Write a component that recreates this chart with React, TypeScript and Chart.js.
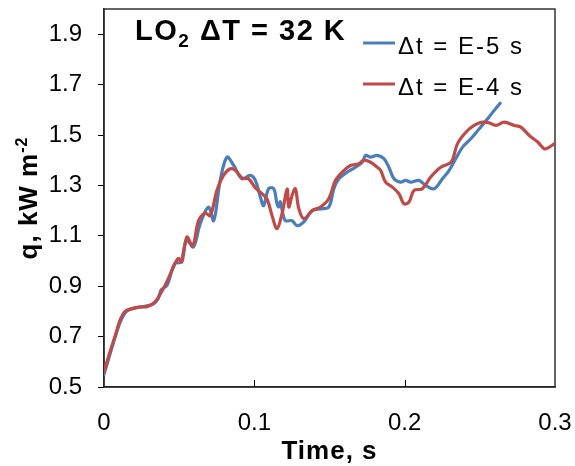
import { useEffect, useRef } from 'react';
import { Chart, registerables } from 'chart.js';

Chart.register(...registerables);

const FONT = '"Liberation Sans", Arial, Helvetica, sans-serif';

// Δt = E-5 s run: time (s) and heat flux (kW m^-2)
const timeFine = [
  0, 0.003, 0.007, 0.011, 0.015, 0.02, 0.027, 0.033, 0.036, 0.038,
  0.042, 0.047, 0.051, 0.055, 0.0595, 0.064, 0.0695, 0.073, 0.0773, 0.0818,
  0.0862, 0.0918, 0.0973, 0.1007, 0.104, 0.1062, 0.1095, 0.1129, 0.1151, 0.1162,
  0.1173, 0.1189, 0.1207, 0.1251, 0.1285, 0.1329, 0.1385, 0.144, 0.1495, 0.1529,
  0.1562, 0.1618, 0.1673, 0.1718, 0.174, 0.1773, 0.1818, 0.1862, 0.1895, 0.1929,
  0.1973, 0.2007, 0.204, 0.2095, 0.214, 0.2195, 0.2251, 0.2295, 0.234, 0.2385,
  0.244, 0.2495, 0.2551, 0.2595, 0.2635,
];
const heatFine = [
  0.55, 0.61, 0.69, 0.76, 0.8, 0.812, 0.82, 0.83, 0.85, 0.885,
  0.905, 0.99, 0.996, 1.082, 1.056, 1.148, 1.214, 1.16, 1.32, 1.412,
  1.38, 1.326, 1.34, 1.32, 1.254, 1.22, 1.287, 1.287, 1.227, 1.215,
  1.235, 1.19, 1.16, 1.16, 1.14, 1.155, 1.2, 1.207, 1.214, 1.287,
  1.326, 1.353, 1.372, 1.392, 1.419, 1.412, 1.419, 1.406, 1.372, 1.326,
  1.313, 1.32, 1.313, 1.32, 1.3, 1.287, 1.326, 1.359, 1.406, 1.452,
  1.485, 1.524, 1.564, 1.597, 1.626,
];

// Δt = E-4 s run
const timeCoarse = [
  0, 0.004, 0.0073, 0.011, 0.014, 0.019, 0.024, 0.029, 0.034, 0.0407,
  0.0462, 0.0495, 0.0518, 0.0551, 0.059, 0.0629, 0.0673, 0.0707, 0.0751, 0.0795,
  0.084, 0.0873, 0.0918, 0.0962, 0.1007, 0.1051, 0.1085, 0.1118, 0.1151, 0.1185,
  0.1218, 0.1229, 0.1251, 0.1273, 0.1295, 0.1329, 0.1385, 0.144, 0.1495, 0.154,
  0.1595, 0.164, 0.1695, 0.1729, 0.1773, 0.1818, 0.184, 0.1873, 0.1918, 0.1962,
  0.1995, 0.2029, 0.2062, 0.2118, 0.2173, 0.224, 0.2295, 0.2318, 0.2351, 0.2407,
  0.2462, 0.2518, 0.2562, 0.2607, 0.2662, 0.2729, 0.2773, 0.2829, 0.2885, 0.2929,
  0.2962, 0.2995, 0.3,
];
const heatCoarse = [
  0.56, 0.64, 0.7, 0.77, 0.8, 0.812, 0.818, 0.82, 0.838, 0.904,
  0.976, 1.01, 0.996, 1.095, 1.06, 1.16, 1.19, 1.18, 1.28, 1.34,
  1.366, 1.36, 1.33, 1.326, 1.29, 1.267, 1.245, 1.18, 1.128, 1.19,
  1.285, 1.214, 1.26, 1.287, 1.21, 1.168, 1.2, 1.214, 1.247, 1.32,
  1.359, 1.379, 1.386, 1.4, 1.392, 1.372, 1.36, 1.313, 1.293, 1.267,
  1.227, 1.234, 1.28, 1.287, 1.333, 1.372, 1.386, 1.4, 1.465, 1.511,
  1.538, 1.551, 1.548, 1.538, 1.551, 1.538, 1.531, 1.498, 1.472, 1.445,
  1.452, 1.465, 1.467,
];

const xTickValues = [0, 0.1, 0.2, 0.3];
const yTickValues = [0.5, 0.7, 0.9, 1.1, 1.3, 1.5, 1.7, 1.9];
const seriesLabels = ['Δt = E-5 s', 'Δt = E-4 s'];
const seriesColors = ['#4A7EBB', '#BE4B48'];

const toPoints = (xs: number[], ys: number[]) => xs.map((x, i) => ({ x, y: ys[i] }));

// Plot frame, inward x ticks, title, legend and axis titles
const decorations = {
  id: 'decorations',
  beforeDatasetsDraw(chart: any) {
    const { ctx, chartArea: a, scales } = chart;
    ctx.save();
    ctx.strokeStyle = '#333';
    ctx.lineWidth = 1.5;
    ctx.strokeRect(a.left, a.top, a.right - a.left, a.bottom - a.top);
    ctx.strokeStyle = '#000';
    ctx.lineWidth = 1;
    for (const v of xTickValues.slice(1, -1)) {
      const px = Math.round(scales.x.getPixelForValue(v)) + 0.5;
      ctx.beginPath();
      ctx.moveTo(px, a.bottom);
      ctx.lineTo(px, a.bottom - 7);
      ctx.stroke();
    }
    ctx.restore();
  },
  afterDraw(chart: any) {
    const { ctx, chartArea: a } = chart;
    ctx.save();
    ctx.fillStyle = '#000';
    ctx.textAlign = 'left';
    ctx.textBaseline = 'alphabetic';

    // Title: LO2 ΔT = 32 K
    ctx.letterSpacing = '1.5px';
    let x = 135;
    ctx.font = `bold 29px ${FONT}`;
    ctx.fillText('LO', x, 40);
    x += ctx.measureText('LO').width;
    ctx.font = `bold 19px ${FONT}`;
    ctx.fillText('2', x, 47);
    x += ctx.measureText('2').width;
    ctx.font = `bold 29px ${FONT}`;
    ctx.fillText(' ΔT = 32 K', x, 40);

    // Legend
    chart.data.datasets.forEach((ds: any, i: number) => {
      const y = 43 + 41 * i;
      ctx.strokeStyle = ds.borderColor;
      ctx.lineWidth = 3;
      ctx.beginPath();
      ctx.moveTo(363, y);
      ctx.lineTo(395, y);
      ctx.stroke();
      ctx.font = `24px ${FONT}`;
      ctx.letterSpacing = '2px';
      ctx.fillText(ds.label, 398, y + 10.5);
    });

    // x-axis title
    ctx.letterSpacing = '1px';
    ctx.font = `bold 26px ${FONT}`;
    ctx.textAlign = 'center';
    ctx.fillText('Time, s', (a.left + a.right) / 2, 459);

    // y-axis title, rotated, with superscript exponent
    ctx.save();
    ctx.translate(37, (a.top + a.bottom) / 2);
    ctx.rotate(-Math.PI / 2);
    ctx.textAlign = 'left';
    const main = 'q, kW m';
    const sup = '-2';
    ctx.font = `bold 26px ${FONT}`;
    const wMain = ctx.measureText(main).width;
    ctx.font = `bold 16px ${FONT}`;
    const wSup = ctx.measureText(sup).width;
    const start = -(wMain + wSup) / 2;
    ctx.font = `bold 26px ${FONT}`;
    ctx.fillText(main, start, 0);
    ctx.font = `bold 16px ${FONT}`;
    ctx.fillText(sup, start + wMain, -10);
    ctx.restore();

    ctx.restore();
  },
};

export default function App() {
  const canvasRef = useRef<HTMLCanvasElement | null>(null);

  useEffect(() => {
    const canvas = canvasRef.current;
    if (!canvas) return;
    const chart = new Chart(canvas, {
      type: 'line',
      data: {
        datasets: [
          {
            label: seriesLabels[0],
            data: toPoints(timeFine, heatFine),
            borderColor: seriesColors[0],
            order: 1,
          },
          {
            label: seriesLabels[1],
            data: toPoints(timeCoarse, heatCoarse),
            borderColor: seriesColors[1],
            order: 0,
          },
        ],
      },
      options: {
        responsive: false,
        animation: false,
        events: [],
        layout: { padding: { top: 9, right: 20, left: 0, bottom: 0 } },
        plugins: {
          legend: { display: false },
          tooltip: { enabled: false },
        },
        elements: {
          point: { radius: 0 },
          line: {
            borderWidth: 3.2,
            tension: 0.35,
            borderCapStyle: 'round',
            borderJoinStyle: 'round',
            fill: false,
          },
        },
        scales: {
          x: {
            type: 'linear',
            min: 0,
            max: 0.3,
            afterFit: (s: any) => {
              s.height = 79;
              s.paddingLeft = 0;
              s.paddingRight = 0;
            },
            afterBuildTicks: (s: any) => {
              s.ticks = xTickValues.map((value) => ({ value }));
            },
            grid: { display: false, drawTicks: false },
            border: { display: true, color: '#000', width: 1.5 },
            ticks: {
              font: { family: FONT, size: 24 },
              color: '#000',
              padding: 22,
              maxRotation: 0,
              autoSkip: false,
              callback: (v: any) => String(v),
            },
          },
          y: {
            type: 'linear',
            min: 0.5,
            max: 2.0,
            afterFit: (s: any) => {
              s.width = 104;
              s.paddingTop = 0;
              s.paddingBottom = 0;
            },
            afterBuildTicks: (s: any) => {
              s.ticks = yTickValues.map((value) => ({ value }));
            },
            grid: {
              display: true,
              drawOnChartArea: false,
              drawTicks: true,
              tickLength: 6,
              color: '#000',
              lineWidth: 1,
            },
            border: { display: true, color: '#000', width: 1.5 },
            ticks: {
              font: { family: FONT, size: 24 },
              color: '#000',
              padding: 16,
              callback: (v: any) => Number(v).toFixed(1),
            },
          },
        },
      },
      plugins: [decorations],
    });
    return () => chart.destroy();
  }, []);

  return (
    <div style={{ position: 'absolute', left: 0, top: 0, width: 575, height: 466, background: '#fff' }}>
      <canvas ref={canvasRef} width={575} height={466} />
    </div>
  );
}
